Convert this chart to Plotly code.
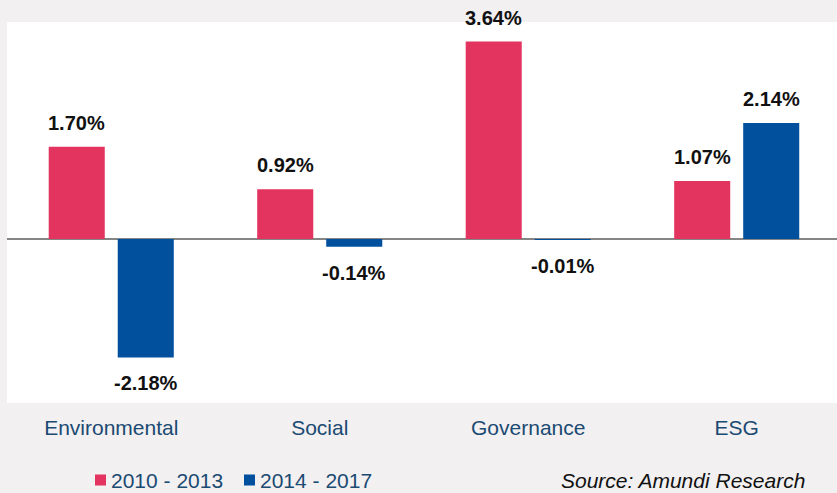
import plotly.graph_objects as go

categories = ["Environmental", "Social", "Governance", "ESG"]
series_names = ["2010 - 2013", "2014 - 2017"]
values_2010_2013 = [1.70, 0.92, 3.64, 1.07]
values_2014_2017 = [-2.18, -0.14, -0.01, 2.14]
source_text = "Source: Amundi Research"

RED = "#e3335f"
BLUE = "#00509e"
TXT = "#1b4a72"
BG = "#f2f0f1"

W, H = 837, 493
L, R, T, B = 7, 0, 22, 90
pw = W - L - R
ph = H - T - B

def px_x(px):
    return (px - L) / pw

def px_y(py):
    return (H - B - py) / ph

fig = go.Figure()
for name, vals, col in [(series_names[0], values_2010_2013, RED), (series_names[1], values_2014_2017, BLUE)]:
    fig.add_trace(go.Bar(x=categories, y=vals, name=name, marker=dict(color=col, line=dict(width=0)),
                         showlegend=False, hoverinfo="skip"))

annotations = []
for vals, shift in [(values_2010_2013, -34.5), (values_2014_2017, 34.5)]:
    for c, v in zip(categories, vals):
        pos = v >= 0
        annotations.append(dict(
            x=c, y=v, xref="x", yref="y", text=f"<b>{v:.2f}%</b>", showarrow=False,
            xshift=shift, yshift=11 if pos else -13,
            yanchor="bottom" if pos else "top",
            font=dict(family="Liberation Sans, Arial", size=20, color="#111111")))

# legend
leg_y = px_y(480)
for name, col, sq_x, tx in [(series_names[0], RED, 95, 109), (series_names[1], BLUE, 244, 258)]:
    fig.add_shape(type="rect", xref="paper", yref="paper",
                  x0=px_x(sq_x), x1=px_x(sq_x + 11), y0=px_y(485.5), y1=px_y(474.5),
                  fillcolor=col, line=dict(width=0), layer="above")
    annotations.append(dict(x=px_x(tx), y=leg_y, xref="paper", yref="paper", text=name,
                            showarrow=False, xanchor="left", yanchor="middle",
                            font=dict(family="Liberation Sans, Arial", size=21, color=TXT)))

annotations.append(dict(x=px_x(807), y=leg_y, xref="paper", yref="paper", text=f"<i>{source_text}</i>",
                        showarrow=False, xanchor="right", yanchor="middle",
                        font=dict(family="Liberation Sans, Arial", size=21, color="#111111")))

fig.update_layout(
    width=W, height=H,
    margin=dict(l=L, r=R, t=T, b=B, pad=0),
    paper_bgcolor=BG, plot_bgcolor="white",
    barmode="group", bargap=0.338, bargroupgap=0.188,
    annotations=annotations,
    xaxis=dict(range=[-0.5, 3.481], showgrid=False, showline=False, ticks="",
               tickfont=dict(family="Liberation Sans, Arial", size=21, color=TXT),
               ticklabelstandoff=10, fixedrange=True),
    yaxis=dict(range=[-3.02, 4.0], showgrid=False, showticklabels=False, ticks="",
               zeroline=True, zerolinecolor="#858585", zerolinewidth=2, showline=False,
               fixedrange=True),
)

fig.write_html("out.html", config={"displayModeBar": False},
               post_script="document.body.style.margin='0';document.body.style.overflow='hidden';document.body.style.background='" + BG + "';")
